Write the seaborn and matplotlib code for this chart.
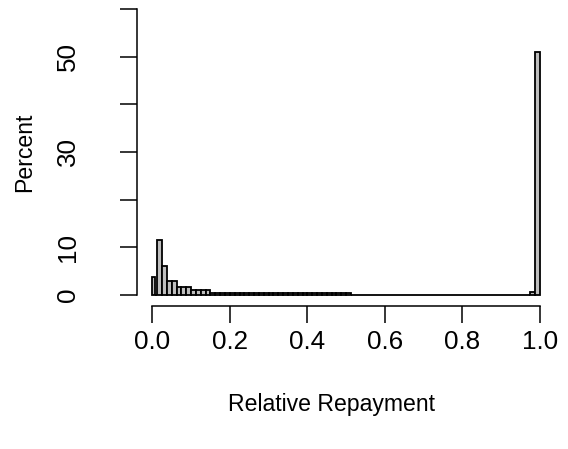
import numpy as np
import matplotlib
matplotlib.use("Agg")
import matplotlib.pyplot as plt
import seaborn as sns

# ---- data ----
bin_edges = ([0.0, 0.0075, 0.0125] + [round(0.0125 * k, 4) for k in range(2, 81)])
percents = ([3.7, 0.0, 11.5, 6.0, 2.9, 2.9, 1.7, 1.7, 1.7, 1.05, 1.05, 1.05, 1.05]
            + [0.35] * 29 + [0.0] * 37 + [0.6, 51.0])
x_ticks = [0.0, 0.2, 0.4, 0.6, 0.8, 1.0]
x_tick_labels = ["0.0", "0.2", "0.4", "0.6", "0.8", "1.0"]
y_ticks = [0, 10, 20, 30, 40, 50, 60]
y_tick_labels = ["0", "10", "", "30", "", "50", ""]
x_title = "Relative Repayment"
y_title = "Percent"

mids = [(a + b) / 2 for a, b in zip(bin_edges[:-1], bin_edges[1:])]

sns.set_style("ticks")
plt.rcParams["font.family"] = ["Liberation Sans", "DejaVu Sans"]

W, H = 568, 449
fig = plt.figure(figsize=(W / 100, H / 100), dpi=100)
left_px, right_px = 136.8, 555.5
bottom_px, top_px = 306.0, -2.0
ax = fig.add_axes([left_px / W, (H - bottom_px) / H,
                   (right_px - left_px) / W, (bottom_px - top_px) / H])

sns.histplot(x=mids, weights=percents, bins=bin_edges, ax=ax,
             color="#BEBEBE", edgecolor="black", linewidth=1.3, alpha=1.0)

ax.set_xlim(-0.04, 1.04)
ax.set_ylim(-2.4, 62.4)
for s in ["top", "right"]:
    ax.spines[s].set_visible(False)
ax.spines["left"].set_bounds(0, 60)
ax.spines["bottom"].set_bounds(0, 1)
for s in ["left", "bottom"]:
    ax.spines[s].set_linewidth(1.1)
    ax.spines[s].set_color("black")

ax.set_xticks(x_ticks)
ax.set_xticklabels(x_tick_labels)
ax.set_yticks(y_ticks)
ax.set_yticklabels(y_tick_labels, rotation=90, va="center")
ax.tick_params(axis="both", direction="out", length=12.2, width=1.1,
               color="black", labelsize=18.7, labelcolor="black")
ax.tick_params(axis="x", pad=5)
ax.tick_params(axis="y", pad=29)
ax.set_xlabel("")
ax.set_ylabel("")

fig.text(332 / W, 1 - 405 / H, x_title, ha="center", va="center",
         fontsize=16.6, color="black")
fig.text(25 / W, 1 - 152 / H, y_title, ha="center", va="center",
         fontsize=16.6, color="black", rotation=90)

fig.savefig("out.png", dpi=100, facecolor="white")
